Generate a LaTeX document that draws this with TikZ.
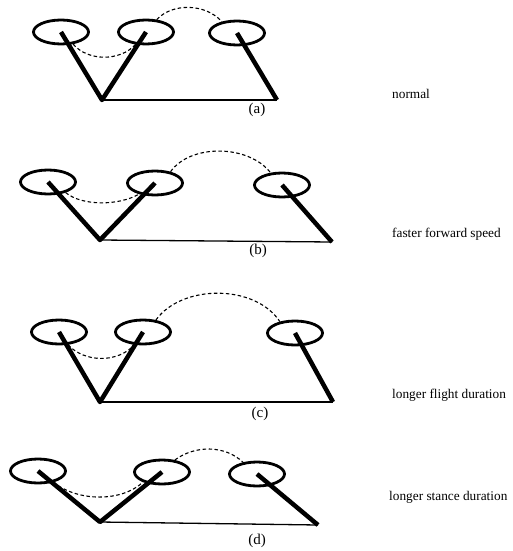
\documentclass[tikz,border=0pt]{standalone}
\usepackage{fontspec}
\setmainfont{Liberation Serif}
\usetikzlibrary{shapes.geometric}
\begin{document}
\begin{tikzpicture}[x=1pt, y=-1pt,
  hip/.style={draw, ellipse, line width=2.8pt, minimum width=55pt, minimum height=24pt, inner sep=0pt},
  leg/.style={line width=4.5pt, line join=round},
  ground/.style={line width=1.3pt},
  traj/.style={line width=1.1pt, dash pattern=on 3.5pt off 2.5pt},
  tag/.style={font=\fontsize{15}{17}\selectfont, anchor=base},
  note/.style={font=\fontsize{13.3}{16}\selectfont, anchor=base west, inner sep=0pt}]
\useasboundingbox (0,0) rectangle (513,551);

% (a) normal
\node[hip] (a1) at (61,32){};
\node[hip] (a2) at (146,32){};
\node[hip] (a3) at (237,33){};
\coordinate (fa) at (102,100);
\coordinate (ga) at (277,100);
\draw[leg] (a1.center) -- (fa) -- (a2.center);
\draw[leg] (a3.center) -- (ga);
\draw[ground] (fa) -- (ga);
\draw[traj] (a1.-45) .. controls (88,61.5) and (120,61.5) .. (a2.-130);
\draw[traj] (a2.49) .. controls (172,3) and (205,3) .. (a3.143);
\node[tag] (la) at (257,113){(a)};
\node[note] (na) at (392,98){normal};

% (b) faster forward speed
\node[hip] (b1) at (48,182){};
\node[hip] (b2) at (155,183){};
\node[hip] (b3) at (282,185){};
\coordinate (fb) at (100,240);
\coordinate (gb) at (332,242);
\draw[leg] (b1.center) -- (fb) -- (b2.center);
\draw[leg] (b3.center) -- (gb);
\draw[ground] (fb) -- (gb);
\draw[traj] (b1.-31) .. controls (82,206) and (118,206) .. (b2.-145);
\draw[traj] (b2.36) .. controls (190,144) and (248,144) .. (b3.133);
\node[tag] (lb) at (258,254){(b)};
\node[note] (nb) at (392,237){faster forward speed};

% (c) longer flight duration
\node[hip] (c1) at (59,332){};
\node[hip] (c2) at (143,332){};
\node[hip] (c3) at (295,333){};
\coordinate (fc) at (100,402);
\coordinate (gc) at (333,402);
\draw[leg] (c1.center) -- (fc) -- (c2.center);
\draw[leg] (c3.center) -- (gc);
\draw[ground] (fc) -- (gc);
\draw[traj] (c1.-55) .. controls (85,363) and (118,363) .. (c2.-124);
\draw[traj] (c2.43) .. controls (182,284) and (255,284) .. (c3.143);
\node[tag] (lc) at (260,417){(c)};
\node[note] (nc) at (392,398){longer flight duration};

% (d) longer stance duration
\node[hip] (d1) at (38,471){};
\node[hip] (d2) at (162,472){};
\node[hip] (d3) at (257,474){};
\coordinate (fd) at (100,522);
\coordinate (gd) at (318,525);
\draw[leg] (d1.center) -- (fd) -- (d2.center);
\draw[leg] (d3.center) -- (gd);
\draw[ground] (fd) -- (gd);
\draw[traj] (d1.-36) .. controls (78,502) and (122,502) .. (d2.-152);
\draw[traj] (d2.43) .. controls (195,445) and (225,445) .. (d3.140);
\node[tag] (ld) at (257,544){(d)};
\node[note] (nd) at (389,500){longer stance duration};

\end{tikzpicture}
\end{document}
